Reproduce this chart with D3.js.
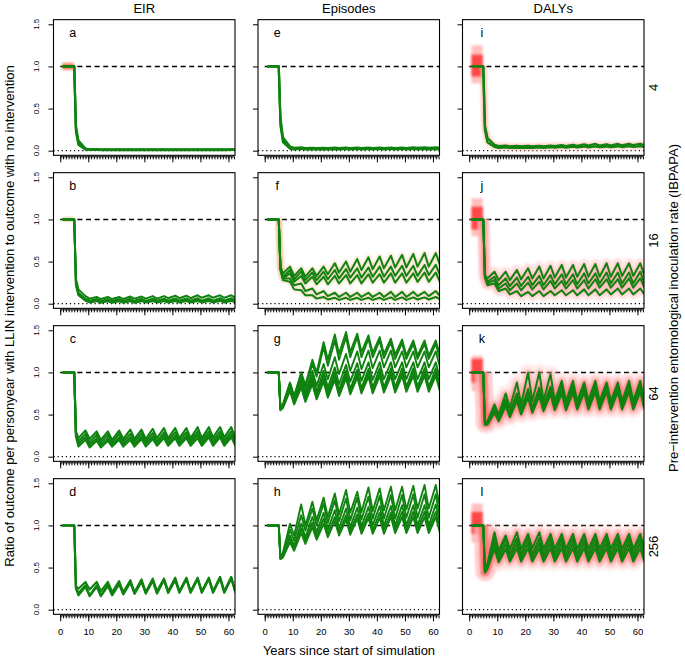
<!DOCTYPE html>
<html><head><meta charset="utf-8">
<script src="https://cdn.jsdelivr.net/npm/d3@7"></script>
<style>
body{margin:0;background:#fff}
svg{display:block}
text{font-family:"Liberation Sans",Arial,Helvetica,sans-serif;fill:#000}
</style></head>
<body><svg id="chart" width="685" height="659"></svg>
<script>
// ---------------- DATA ----------------
const columnTitles = ["EIR", "Episodes", "DALYs"];
const rowLabels = ["4", "16", "64", "256"];
const panelLetters = [["a","e","i"],["b","f","j"],["c","g","k"],["d","h","l"]];
const yTickValues = [0, 0.5, 1.0, 1.5];
const xTickLabels = [0, 10, 20, 30, 40, 50, 60];
const xMinorTicks = [0,1,2,3,4,5,6,7,8,9,10,11,12,13,14,15,16,17,18,19,20,21,22,23,24,25,26,27,28,29,30,31,32,33,34,35,36,37,38,39,40,41,42,43,44,45,46,47,48,49,50,51,52,53,54,55,56,57,58,59,60,61,62];
const referenceRatio = 1.0;
const zeroRatio = 0.0;
// years at which every series below is sampled
const knotYears = [0.8, 5, 5.6, 6.5,9, 10.5,13, 14.5,17, 18.5,21, 22.5,25, 26.5,29, 30.5,33,
  34.5,37, 38.5,41, 42.5,45, 46.5,49, 50.5,53, 54.5,57, 58.5,61, 62.5];

const seriesA = [
 [1,1,.30, .12,.025, .016,.018, .015,.017, .015,.017, .015,.017, .015,.017, .015,.017,
   .015,.017, .015,.017, .015,.017, .015,.017, .015,.017, .015,.017, .015,.017, .015],
 [1,1,.22, .07,.012, .009,.011, .008,.010, .008,.010, .008,.010, .008,.010, .008,.010,
   .008,.010, .008,.010, .008,.010, .008,.010, .008,.010, .008,.010, .008,.010, .008],
 [1,1,.26, .09,.018, .012,.014, .011,.013, .011,.013, .011,.013, .011,.013, .011,.013,
   .011,.013, .011,.013, .011,.013, .011,.013, .011,.013, .011,.013, .011,.013, .011]
];
const seriesB = [
 [1,1,.30, .17,.09, .06,.08, .055,.08, .055,.08, .055,.085, .06,.085, .06,.09,
   .06,.09, .065,.095, .065,.095, .065,.10, .07,.10, .07,.10, .07,.10, .07],
 [1,1,.26, .13,.06, .035,.055, .03,.055, .032,.055, .032,.058, .034,.058, .034,.06,
   .035,.06, .035,.062, .036,.062, .036,.064, .037,.064, .037,.065, .038,.065, .038],
 [1,1,.22, .10,.035, .015,.03, .012,.028, .012,.028, .012,.028, .012,.03, .013,.03,
   .013,.03, .013,.03, .014,.032, .014,.032, .014,.032, .015,.033, .015,.033, .015],
 [1,1,.24, .11,.045, .022,.04, .02,.04, .02,.04, .021,.042, .022,.042, .022,.044,
   .023,.044, .023,.045, .024,.046, .024,.046, .025,.047, .025,.048, .025,.048, .025]
];
const seriesC = [
 [1,1,.30, .22,.31, .21,.30, .20,.30, .20,.31, .21,.32, .21,.32, .21,.33,
   .22,.34, .22,.34, .22,.34, .22,.35, .22,.35, .23,.35, .23,.35, .22],
 [1,1,.28, .18,.27, .17,.26, .17,.26, .17,.27, .18,.27, .18,.28, .18,.28,
   .18,.29, .19,.29, .19,.29, .19,.30, .19,.30, .19,.30, .19,.30, .19],
 [1,1,.26, .15,.23, .14,.22, .14,.22, .14,.23, .15,.23, .15,.24, .15,.24,
   .15,.25, .16,.25, .16,.25, .16,.26, .16,.26, .16,.26, .16,.26, .16],
 [1,1,.24, .12,.20, .11,.19, .11,.19, .12,.20, .12,.20, .12,.21, .12,.21,
   .13,.22, .13,.22, .13,.22, .13,.22, .13,.23, .13,.23, .13,.23, .13]
];
const seriesD = [
 [1,1,.28, .25,.33, .24,.33, .22,.33, .21,.34, .21,.35, .21,.36, .21,.37,
   .22,.37, .22,.38, .22,.38, .22,.38, .22,.38, .22,.39, .22,.39, .22],
 [1,1,.26, .20,.29, .17,.29, .17,.30, .18,.32, .19,.33, .19,.34, .20,.35,
   .20,.36, .20,.36, .21,.37, .21,.37, .21,.37, .21,.38, .21,.38, .21],
 [1,1,.25, .17,.27, .16,.27, .16,.28, .17,.30, .18,.32, .19,.33, .19,.34,
   .19,.35, .20,.35, .20,.36, .20,.36, .20,.36, .20,.37, .20,.37, .20]
];
const seriesE = [
 [1,1,.40, .16,.05, .035,.04, .03,.035, .03,.035, .03,.036, .03,.036, .031,.037,
   .031,.037, .031,.038, .032,.038, .032,.038, .032,.039, .033,.039, .033,.04, .033],
 [1,1,.30, .10,.025, .015,.02, .014,.019, .014,.019, .014,.019, .014,.02, .015,.02,
   .015,.02, .015,.021, .015,.021, .016,.021, .016,.022, .016,.022, .016,.022, .016],
 [1,1,.35, .13,.035, .024,.029, .022,.027, .022,.027, .022,.028, .022,.028, .023,.029,
   .023,.029, .023,.03, .024,.03, .024,.03, .024,.031, .025,.031, .025,.031, .025]
];
const seriesF = [
 [1,1,.44, .36,.44, .33,.42, .32,.42, .33,.44, .35,.48, .37,.50, .38,.53,
   .40,.55, .41,.56, .42,.57, .43,.58, .43,.59, .44,.60, .44,.60, .46],
 [1,1,.43, .32,.40, .29,.38, .28,.37, .28,.38, .29,.40, .30,.41, .31,.42,
   .31,.43, .32,.44, .32,.44, .33,.45, .33,.45, .33,.46, .34,.46, .34],
 [1,1,.42, .30,.36, .26,.33, .24,.32, .23,.32, .23,.33, .24,.34, .24,.34,
   .24,.35, .25,.35, .25,.36, .25,.36, .25,.36, .26,.37, .26,.37, .26],
 [1,1,.41, .30,.30, .22,.24, .15,.18, .11,.15, .09,.13, .08,.13, .08,.13,
   .08,.13, .08,.13, .08,.14, .08,.14, .08,.14, .09,.14, .09,.15, .09],
 [1,1,.40, .28,.26, .17,.16, .10,.10, .06,.08, .05,.07, .045,.07, .045,.07,
   .045,.07, .045,.07, .045,.075, .045,.075, .045,.075, .05,.075, .05,.08, .05]
];
const seriesG = [
 [1,1,.57, .62,.88, .72,1.0, .85,1.15, 1.0,1.36, 1.15,1.45, 1.22,1.48, 1.24,1.46,
   1.24,1.44, 1.23,1.42, 1.22,1.40, 1.21,1.39, 1.20,1.38, 1.20,1.38, 1.20,1.38, 1.20],
 [1,1,.57, .62,.87, .71,.98, .82,1.10, .95,1.30, 1.08,1.38, 1.15,1.42, 1.18,1.42,
   1.18,1.40, 1.18,1.38, 1.17,1.36, 1.16,1.35, 1.16,1.34, 1.16,1.34, 1.16,1.34, 1.16],
 [1,1,.57, .61,.85, .69,.95, .76,1.02, .84,1.10, .92,1.18, .98,1.22, 1.02,1.25,
   1.04,1.26, 1.05,1.26, 1.06,1.26, 1.06,1.25, 1.06,1.25, 1.06,1.25, 1.06,1.25, 1.06],
 [1,1,.57, .60,.84, .67,.92, .72,.97, .77,1.02, .82,1.06, .86,1.09, .89,1.11,
   .90,1.12, .91,1.12, .92,1.12, .92,1.12, .92,1.12, .92,1.12, .92,1.12, .92],
 [1,1,.57, .60,.82, .65,.88, .70,.93, .74,.97, .77,1.00, .79,1.02, .80,1.03,
   .81,1.04, .82,1.05, .82,1.05, .82,1.05, .83,1.05, .83,1.05, .83,1.05, .83],
 [1,1,.56, .59,.80, .63,.85, .67,.89, .70,.92, .73,.95, .75,.97, .77,.98,
   .78,.99, .78,1.0, .79,1.0, .79,1.0, .79,1.0, .80,1.0, .80,1.0, .80],
 [1,1,.55, .58,.78, .62,.82, .65,.86, .68,.89, .70,.91, .72,.93, .74,.94,
   .75,.95, .75,.96, .76,.96, .76,.96, .77,.96, .77,.96, .77,.96, .77]
];
const seriesH = [
 [1,1,.61, .68,1.02, .88,1.25, 1.0,1.28, 1.06,1.33, 1.10,1.38, 1.13,1.42, 1.15,1.40,
   1.16,1.45, 1.17,1.44, 1.18,1.46, 1.18,1.46, 1.19,1.47, 1.20,1.48, 1.20,1.48, 1.20],
 [1,1,.61, .66,.95, .82,1.12, .94,1.20, 1.0,1.26, 1.03,1.30, 1.05,1.32, 1.06,1.33,
   1.07,1.34, 1.08,1.35, 1.08,1.36, 1.08,1.36, 1.09,1.37, 1.09,1.37, 1.09,1.37, 1.09],
 [1,1,.61, .64,.88, .76,1.02, .86,1.10, .92,1.15, .95,1.18, .97,1.20, .98,1.21,
   .99,1.22, 1.0,1.23, 1.0,1.23, 1.0,1.24, 1.0,1.24, 1.0,1.24, 1.0,1.25, 1.0],
 [1,1,.61, .63,.84, .73,.96, .82,1.03, .87,1.08, .90,1.10, .92,1.12, .93,1.13,
   .94,1.14, .94,1.15, .95,1.15, .95,1.16, .95,1.16, .95,1.16, .95,1.16, .95],
 [1,1,.60, .62,.80, .70,.91, .78,.98, .83,1.02, .86,1.05, .88,1.07, .89,1.08,
   .90,1.09, .90,1.09, .90,1.10, .91,1.10, .91,1.10, .91,1.10, .91,1.10, .91]
];
const seriesI = [
 [1,1,.30, .15,.07, .055,.06, .05,.056, .05,.056, .05,.058, .052,.06, .055,.065,
   .055,.07, .058,.075, .06,.08, .06,.076, .06,.08, .062,.082, .065,.08, .065],
 [1,1,.25, .10,.045, .035,.04, .033,.038, .033,.038, .034,.04, .035,.042, .036,.045,
   .038,.048, .04,.05, .04,.052, .042,.05, .043,.053, .044,.055, .045,.055, .045]
];
const seriesJ = [
 [1,1,.34, .30,.38, .28,.38, .28,.40, .29,.42, .30,.44, .30,.45, .31,.46,
   .31,.46, .32,.47, .32,.47, .32,.48, .32,.48, .33,.48, .33,.48, .33],
 [1,1,.33, .26,.32, .22,.30, .21,.31, .21,.32, .22,.33, .22,.34, .23,.35,
   .23,.35, .23,.36, .24,.36, .24,.37, .24,.37, .24,.37, .24,.38, .24],
 [1,1,.32, .24,.28, .18,.24, .16,.24, .16,.25, .17,.26, .17,.27, .18,.27,
   .18,.28, .18,.28, .18,.29, .19,.29, .19,.29, .19,.30, .19,.30, .19],
 [1,1,.31, .22,.24, .15,.18, .11,.15, .09,.14, .09,.15, .09,.15, .10,.16,
   .10,.16, .10,.17, .10,.17, .10,.17, .11,.18, .11,.18, .11,.18, .11]
];
const seriesK = [
 [1,1,.40, .42,.62, .50,.75, .58,.88, .62,1.0, .66,1.0, .66,.98, .66,.90,
   .66,.90, .66,.88, .67,.90, .66,.88, .66,.88, .66,.90, .66,.90, .66],
 [1,1,.40, .40,.58, .47,.68, .52,.75, .56,.80, .58,.82, .60,.83, .60,.84,
   .61,.85, .61,.85, .61,.86, .62,.86, .62,.86, .62,.86, .62,.86, .62],
 [1,1,.38, .38,.52, .42,.60, .47,.66, .50,.70, .52,.72, .54,.74, .55,.75,
   .55,.76, .56,.76, .56,.77, .56,.77, .56,.77, .56,.77, .56,.77, .56],
 [1,1,.39, .39,.55, .45,.64, .50,.71, .53,.75, .55,.77, .57,.79, .58,.80,
   .58,.81, .59,.81, .59,.82, .59,.82, .59,.82, .59,.82, .59,.82, .59]
];
const seriesL = [
 [1,1,.45, .55,.92, .70,.88, .72,.92, .72,.90, .73,.92, .72,.90, .72,.90,
   .72,.90, .72,.90, .72,.90, .72,.90, .72,.90, .72,.90, .72,.90, .72],
 [1,1,.45, .52,.85, .65,.84, .66,.85, .66,.85, .66,.85, .66,.85, .66,.85,
   .66,.85, .66,.85, .66,.85, .66,.85, .66,.85, .66,.85, .66,.85, .66],
 [1,1,.45, .50,.78, .60,.78, .61,.79, .61,.79, .61,.79, .61,.79, .61,.79,
   .61,.79, .61,.79, .61,.79, .61,.79, .61,.79, .61,.79, .61,.79, .61],
 [1,1,.44, .48,.72, .56,.72, .57,.73, .57,.73, .57,.73, .57,.73, .57,.73,
   .57,.73, .57,.73, .57,.73, .57,.73, .57,.73, .57,.73, .57,.73, .57]
];
// pre-intervention spread of stochastic runs (ratio ranges)
const preYears = [0.8, 4.8];
const preOuter = { a:[0.955,1.045], b:[0.975,1.025], i:[0.80,1.25], j:[0.80,1.25], k:[0.78,1.20], l:[0.80,1.26] };
const preInner = { a:[0.975,1.025], i:[0.88,1.14], j:[0.88,1.15], k:[0.88,1.16], l:[0.90,1.16] };

const panelData = { a:seriesA, b:seriesB, c:seriesC, d:seriesD, e:seriesE, f:seriesF,
                    g:seriesG, h:seriesH, i:seriesI, j:seriesJ, k:seriesK, l:seriesL };

// ---------------- STYLE / LAYOUT ----------------
const colLeft = [53.5, 258, 462.5], boxW = 181.5;
const rowZeroY = [150.7, 303.7, 456.7, 609.7], pxPerUnit = 84.27;
const yLo = -0.055, yHi = 1.555;
const xLo = -2.4, xHi = 62.33;
const green = "#0f820f";
const lineWidth = { a:2.2, b:2.0, c:2.1, d:2.1, e:2.2, f:2.0, g:1.9, h:1.9, i:2.3, j:2.0, k:2.0, l:2.0 };
const underStyles = {
  f: [["#f0c49a", 5, 0.45]],
  i: [["#ffb0a0", 6, 0.45]],
  j: [["#ffb8b8", 11, 0.35], ["#ff6a6a", 4, 0.25]],
  k: [["#ffb8b8", 17, 0.30], ["#ff5a5a", 7, 0.30]],
  l: [["#ffb8b8", 18, 0.30], ["#ff5a5a", 8, 0.30]]
};
const preColors = { a:["#ff9a80","#e85a40"], b:["#f0c090",null], i:["#ffb4b4","#ff2a2a"],
                    j:["#ffb4b4","#ff2a2a"], k:["#ffb4b4","#ff2a2a"], l:["#ffb4b4","#ff2a2a"] };

const svg = d3.select("#chart");
const defs = svg.append("defs");
defs.append("filter").attr("id","blur").attr("x","-20%").attr("y","-50%").attr("width","140%").attr("height","200%")
  .append("feGaussianBlur").attr("stdDeviation", 1.3);
defs.append("filter").attr("id","blur2").attr("x","-10%").attr("y","-50%").attr("width","120%").attr("height","200%")
  .append("feGaussianBlur").attr("stdDeviation", 1.2);

panelLetters.forEach((rowArr, r) => {
  rowArr.forEach((id, c) => {
    const x0 = colLeft[c];
    const x = d3.scaleLinear().domain([xLo, xHi]).range([x0, x0 + boxW]);
    const y = d3.scaleLinear().domain([yLo, yHi])
      .range([rowZeroY[r] - yLo * pxPerUnit, rowZeroY[r] - yHi * pxPerUnit]);
    const top = y(yHi), bot = y(yLo);
    const clipId = "clip-" + id;
    defs.append("clipPath").attr("id", clipId).append("rect")
      .attr("x", x0).attr("y", top).attr("width", boxW).attr("height", bot - top);
    const g = svg.append("g").attr("clip-path", `url(#${clipId})`);

    // reference lines
    g.append("line").attr("x1", x(0)).attr("x2", x(xHi)).attr("y1", y(referenceRatio)).attr("y2", y(referenceRatio))
      .attr("stroke", "#000").attr("stroke-width", 1.4).attr("stroke-dasharray", "5,3.6");
    g.append("line").attr("x1", x(xLo)).attr("x2", x(xHi)).attr("y1", y(zeroRatio)).attr("y2", y(zeroRatio))
      .attr("stroke", "#000").attr("stroke-width", 1.2).attr("stroke-dasharray", "1.2,2.9");

    // pre-intervention spread
    if (preOuter[id]) {
      g.append("rect").attr("x", x(preYears[0])).attr("width", x(preYears[1]) - x(preYears[0]))
        .attr("y", y(preOuter[id][1])).attr("height", y(preOuter[id][0]) - y(preOuter[id][1]))
        .attr("fill", preColors[id][0]).attr("opacity", 0.85).attr("filter", "url(#blur)");
    }
    if (preInner[id]) {
      g.append("rect").attr("x", x(preYears[0])).attr("width", x(preYears[1]) - x(preYears[0]))
        .attr("y", y(preInner[id][1])).attr("height", y(preInner[id][0]) - y(preInner[id][1]))
        .attr("fill", preColors[id][1]).attr("opacity", 0.8).attr("filter", "url(#blur)");
    }

    const series = panelData[id].map(vals => vals.map((v, i) => [knotYears[i], v]));
    const line = d3.line().x(d => x(d[0])).y(d => y(d[1]));

    // stochastic spread after intervention
    (underStyles[id] || []).forEach(([col, w, op]) => {
      series.forEach(s => {
        g.append("path").attr("d", line(s.slice(1))).attr("fill", "none")
          .attr("stroke", col).attr("stroke-width", w).attr("stroke-opacity", op)
          .attr("stroke-linejoin", "round").attr("filter", "url(#blur2)");
      });
    });

    series.forEach(s => {
      g.append("path").attr("d", line(s)).attr("fill", "none")
        .attr("stroke", green).attr("stroke-width", lineWidth[id]).attr("stroke-linejoin", "round");
    });

    // box
    svg.append("rect").attr("x", x0).attr("y", top).attr("width", boxW).attr("height", bot - top)
      .attr("fill", "none").attr("stroke", "#000").attr("stroke-width", 1.1);

    // x axis ticks
    const ax = svg.append("g").attr("transform", `translate(0,${bot + 1})`);
    ax.call(d3.axisBottom(x).tickValues(xMinorTicks).tickSize(3).tickSizeOuter(0).tickFormat(""));
    ax.select(".domain").remove();
    const axM = svg.append("g").attr("transform", `translate(0,${bot + 1})`);
    axM.call(d3.axisBottom(x).tickValues(xTickLabels).tickSize(6).tickSizeOuter(0)
      .tickFormat(r === 3 ? d3.format("d") : ""));
    axM.select(".domain").attr("d", `M${x(0)},0.5H${x(62)}`).attr("stroke","#000");
    axM.selectAll("text").attr("y", 13).attr("font-size", 9.5).attr("fill", "#222");
    svg.selectAll(".tick line").attr("stroke", "#000");

    // y axis ticks
    const ay = svg.append("g").attr("transform", `translate(${x0},0)`);
    ay.call(d3.axisLeft(y).tickValues(yTickValues).tickSize(5).tickSizeOuter(0).tickFormat(""));
    ay.select(".domain").remove();
    if (c === 0) {
      yTickValues.forEach(v => {
        const px = x0 - 14, py = y(v);
        svg.append("text").attr("x", px).attr("y", py).attr("transform", `rotate(-90,${px},${py})`)
          .attr("text-anchor", "middle").attr("font-size", 8).attr("fill", "#222")
          .text(d3.format(".1f")(v));
      });
    }

    // panel letter
    svg.append("text").attr("x", x(4.5)).attr("y", y(1.4)).attr("dy", "0.35em")
      .attr("text-anchor", "middle").attr("font-size", 12.5).text(id);

    if (r === 0) {
      svg.append("text").attr("x", x0 + boxW / 2).attr("y", 13).attr("text-anchor", "middle")
        .attr("font-size", 13).text(columnTitles[c]);
    }
    if (c === 2) {
      const px = 658, py = (top + bot) / 2;
      svg.append("text").attr("x", px).attr("y", py).attr("transform", `rotate(-90,${px},${py})`)
        .attr("text-anchor", "middle").attr("font-size", 13).text(rowLabels[r]);
    }
  });
});

// axis titles
svg.append("text").attr("x", 349).attr("y", 655).attr("text-anchor", "middle").attr("font-size", 13)
  .text("Years since start of simulation");
{
  const px = 14, py = 316;
  svg.append("text").attr("x", px).attr("y", py).attr("transform", `rotate(-90,${px},${py})`)
    .attr("text-anchor", "middle").attr("font-size", 13)
    .text("Ratio of outcome per personyear with LLIN intervention to outcome with no intervention");
}
{
  const px = 678, py = 308;
  svg.append("text").attr("x", px).attr("y", py).attr("transform", `rotate(-90,${px},${py})`)
    .attr("text-anchor", "middle").attr("font-size", 13)
    .text("Pre\u2212intervention entomological inoculation rate (IBPAPA)");
}
</script>
</body></html>
